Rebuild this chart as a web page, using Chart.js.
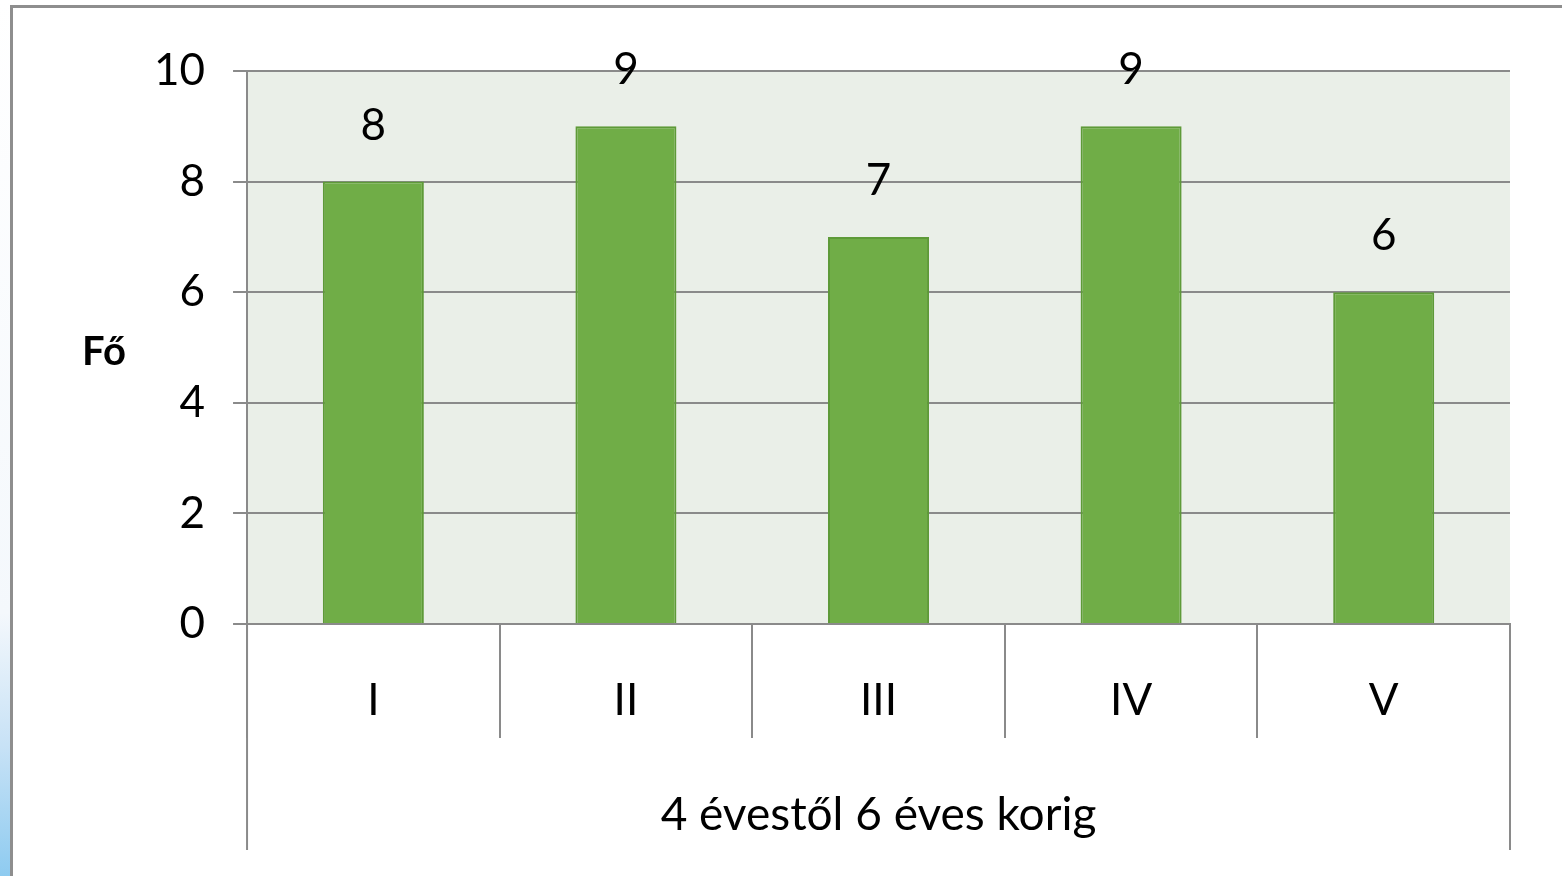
<!DOCTYPE html>
<html>
<head>
<meta charset="utf-8">
<script src="https://cdn.jsdelivr.net/npm/chart.js@4.4.1/dist/chart.umd.min.js"></script>
<style>
  html, body { margin: 0; padding: 0; background: #fff; }
  body { width: 1562px; height: 876px; position: relative; overflow: hidden; }
  #edge { position: absolute; left: 0; top: 0; width: 10px; height: 876px;
    background: linear-gradient(to bottom, #fff 0%, #f4f8fc 70%, #c8e2f6 85%, #8ecbf0 100%); }
  #frame { position: absolute; left: 10px; top: 5px; right: -10px; bottom: -10px;
    border-left: 3px solid #8e8e8e; border-top: 3px solid #8e8e8e; }
  #chart { position: absolute; left: 0; top: 0; }
</style>
</head>
<body>
<div id="edge"></div>
<div id="frame"></div>
<canvas id="chart" width="1562" height="876"></canvas>
<script>
// data
const categories = ['I', 'II', 'III', 'IV', 'V'];
const groupLabel = '4 évestől 6 éves korig';
const values = [8, 9, 7, 9, 6];
const yTitle = 'Fő';

const FONT = "Lato, 'Open Sans', sans-serif";
const LINE = '#8a8a8a';

const plotBg = {
  id: 'plotBg',
  beforeDraw(chart) {
    const { ctx, chartArea: a } = chart;
    ctx.save();
    ctx.fillStyle = '#eaefe8';
    ctx.fillRect(a.left, a.top, a.right - a.left, a.bottom - a.top);
    ctx.restore();
  },
};

const extras = {
  id: 'extras',
  afterDraw(chart) {
    const { ctx, chartArea: a } = chart;
    ctx.save();
    // outer dividers of the two-level category axis
    ctx.strokeStyle = LINE;
    ctx.lineWidth = 2;
    [a.left, a.right].forEach(x => {
      ctx.beginPath();
      ctx.moveTo(x, a.bottom);
      ctx.lineTo(x, 850);
      ctx.stroke();
    });
    // value labels
    ctx.fillStyle = '#000';
    ctx.font = '44px ' + FONT;
    ctx.textAlign = 'center';
    ctx.textBaseline = 'middle';
    chart.getDatasetMeta(0).data.forEach((bar, i) => {
      ctx.fillText(values[i], bar.x, bar.y - 56);
    });
    // horizontal y title
    ctx.font = 'bold 40px ' + FONT;
    ctx.fillText(yTitle, 104, 352);
    ctx.restore();
  },
};

new Chart(document.getElementById('chart'), {
  type: 'bar',
  data: {
    labels: categories,
    datasets: [{
      data: values,
      backgroundColor: '#70ad47',
      borderColor: '#5e9a38',
      borderWidth: 2,
      categoryPercentage: 1,
      barPercentage: 0.4,
    }],
  },
  options: {
    responsive: false,
    animation: false,
    layout: { padding: { left: 126, right: 52, top: 71, bottom: 33 } },
    plugins: { legend: { display: false }, tooltip: { enabled: false } },
    scales: {
      x: {
        grid: { offset: true, drawOnChartArea: false, tickLength: 114, color: LINE, lineWidth: 2 },
        border: { color: LINE, width: 2 },
        ticks: { color: '#000', font: { family: FONT, size: 44 }, padding: -64 },
        title: {
          display: true, text: groupLabel, color: '#000',
          font: { family: FONT, size: 46 }, padding: { top: 125, bottom: 0 },
        },
      },
      y: {
        min: 0, max: 10,
        grid: { color: LINE, lineWidth: 2, tickLength: 14 },
        border: { color: LINE, width: 2 },
        ticks: { stepSize: 2, color: '#000', font: { family: FONT, size: 44 }, padding: 28 },
      },
    },
  },
  plugins: [plotBg, extras],
});
</script>
</body>
</html>
